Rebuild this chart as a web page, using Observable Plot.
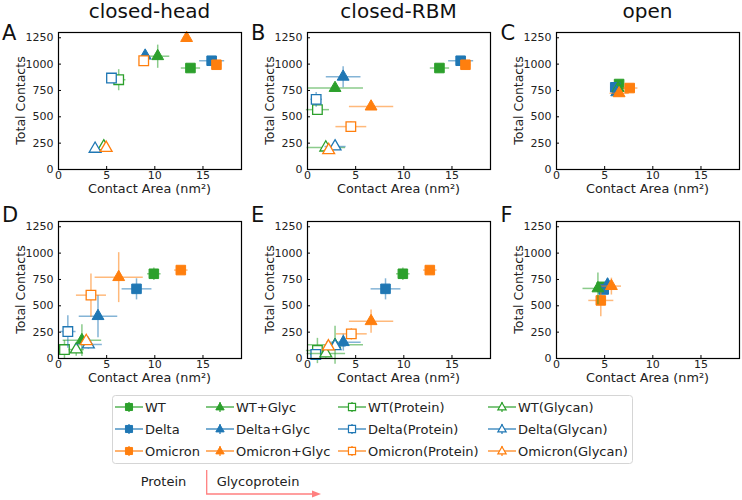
<!DOCTYPE html>
<html><head><meta charset="utf-8">
<script src="https://cdn.jsdelivr.net/npm/d3@7"></script>
<script src="https://cdn.jsdelivr.net/npm/@observablehq/plot@0.6"></script>
<style>
body{margin:0;background:#fff;font-family:"DejaVu Sans",sans-serif;}
#fig{position:relative;width:742px;height:500px;overflow:hidden;background:#fff;}
#fig svg{position:absolute;overflow:visible;}
</style></head><body><div id="fig"></div>
<script>
// ---- series definitions (legend order) ----
const seriesNames = ["WT","Delta","Omicron","WT+Glyc","Delta+Glyc","Omicron+Glyc",
  "WT(Protein)","Delta(Protein)","Omicron(Protein)","WT(Glycan)","Delta(Glycan)","Omicron(Glycan)"];
const seriesColors = ["#2ca02c","#1f77b4","#ff7f0e","#2ca02c","#1f77b4","#ff7f0e",
  "#2ca02c","#1f77b4","#ff7f0e","#2ca02c","#1f77b4","#ff7f0e"];
const seriesShape = ["square","square","square","triangle","triangle","triangle",
  "square","square","square","triangle","triangle","triangle"];
const seriesOpen = [false,false,false,false,false,false,true,true,true,true,true,true];

const panelTitles = ["closed-head","closed-RBM","open"];
const panelLetters = ["A","B","C","D","E","F"];
const xTicks = [0,5,10,15];
const yTicks = [0,250,500,750,1000,1250];

// ---- Panel A: closed-head ----
const aX    = [13.7, 15.9, 16.4, 10.3, 9.0, 13.3, 6.25, 5.5, 8.85, 4.7, 3.8, 4.95];
const aXErr = [1.0, 1.3, 0.5, 1.2, 0.3, 0.4, 0.7, 0.4, 0.4, 0.3, 0.3, 0.3];
const aY    = [963, 1032, 994, 1075, 1080, 1247, 852, 868, 1032, 218, 196, 205];
const aYErr = [20, 20, 20, 110, 30, 30, 100, 20, 20, 15, 15, 15];
// ---- Panel B: closed-RBM ----
const bX    = [13.7, 15.9, 16.4, 2.86, 3.7, 6.6, 1.03, 0.9, 4.5, 1.9, 2.86, 2.2];
const bXErr = [1.0, 1.3, 0.5, 2.9, 1.8, 2.3, 1.2, 0.6, 1.6, 2.0, 1.1, 0.5];
const bY    = [963, 1032, 994, 773, 880, 597, 568, 666, 407, 208, 218, 183];
const bYErr = [20, 20, 20, 30, 100, 30, 40, 70, 50, 20, 20, 15];
// ---- Panel C: open ----
const cX    = [6.5, 6.1, 7.6, 6.4, 6.25, 6.5, null, null, null, null, null, null];
const cXErr = [0.5, 0.5, 0.8, 0.5, 0.4, 1.0, null, null, null, null, null, null];
const cY    = [811, 780, 773, 773, 732, 723, null, null, null, null, null, null];
const cYErr = [30, 30, 40, 40, 30, 30, null, null, null, null, null, null];
// ---- Panel D ----
const dX    = [9.9, 8.1, 12.7, 2.43, 4.1, 6.25, 0.62, 0.97, 3.37, 1.84, 3.1, 2.88];
const dXErr = [0.7, 1.55, 0.7, 2.0, 2.0, 2.5, 0.5, 0.8, 1.56, 0.8, 1.4, 0.5];
const dY    = [804, 661, 839, 174, 402, 772, 85, 256, 601, 85, 133, 165];
const dYErr = [60, 100, 20, 150, 200, 237, 90, 155, 205, 60, 40, 30];
// ---- Panel E ----
const eX    = [9.9, 8.1, 12.7, 2.86, 3.72, 6.6, 1.03, 0.86, 4.55, 1.9, 2.86, 2.17];
const eXErr = [0.7, 1.55, 0.7, 2.9, 1.8, 2.3, 1.2, 0.6, 1.6, 2.0, 1.1, 0.5];
const eY    = [804, 661, 839, 130, 155, 354, 76, 38, 234, 47, 117, 114];
const eYErr = [60, 100, 20, 180, 80, 110, 120, 40, 55, 40, 30, 20];
// ---- Panel F ----
const fX    = [4.7, 4.9, 4.6, 4.3, 5.3, 5.7, null, null, null, null, null, null];
const fXErr = [0.5, 0.5, 1.3, 1.6, 0.6, 1.0, null, null, null, null, null, null];
const fY    = [680, 655, 551, 665, 702, 687, null, null, null, null, null, null];
const fYErr = [40, 40, 150, 150, 60, 80, null, null, null, null, null, null];

const panels = [
  [aX,aXErr,aY,aYErr],[bX,bXErr,bY,bYErr],[cX,cXErr,cY,cYErr],
  [dX,dXErr,dY,dYErr],[eX,eXErr,eY,eYErr],[fX,fXErr,fY,fYErr]
];

const FONT = "DejaVu Sans, sans-serif";
const fig = document.getElementById("fig");
const W = 244, H = 200, ML = 58, MT = 32, MR = 3, MB = 31;
const FH = H - MT - MB, FW = W - ML - MR;

panels.forEach(([xs, xe, ys, ye], i) => {
  const rows = seriesNames.map((name, k) => ({name, k, x: xs[k], xe: xe[k], y: ys[k], ye: ye[k]}))
    .filter(d => d.x != null);
  const marks = [];
  for (const d of rows) {
    const c = seriesColors[d.k];
    marks.push(Plot.link([d], {x1: r => r.x - r.xe, x2: r => r.x + r.xe, y1: "y", y2: "y",
      stroke: c, strokeOpacity: 0.55, strokeWidth: 1.5}));
    marks.push(Plot.link([d], {x1: "x", x2: "x", y1: r => r.y - r.ye, y2: r => r.y + r.ye,
      stroke: c, strokeOpacity: 0.55, strokeWidth: 1.5}));
    const tri = seriesShape[d.k] === "triangle";
    marks.push(Plot.dot([d], {x: "x", y: "y", symbol: seriesShape[d.k], r: tri ? 4.4 : 5.4,
      fill: seriesOpen[d.k] ? "white" : c, stroke: c, strokeWidth: seriesOpen[d.k] ? 1.3 : 1}));
  }
  const svg = Plot.plot({
    width: W, height: H, marginLeft: ML, marginTop: MT, marginRight: MR, marginBottom: MB,
    x: {domain: [0, 19]}, y: {domain: [0, 1300]},
    style: {fontFamily: FONT, fontSize: "11px", color: "#222", background: "transparent", overflow: "visible"},
    marks: [
      Plot.axisX(xTicks, {tickSize: 0, tickPadding: 2, label: null, fontSize: 11, tickFormat: d3.format("d")}),
      Plot.axisY(yTicks, {tickSize: 0, tickPadding: 5, label: null, fontSize: 11, tickFormat: d3.format("d")}),
      Plot.tickX(xTicks, {x: t => t, insetTop: FH - 3, stroke: "#000"}),
      Plot.tickY(yTicks, {y: t => t, insetRight: FW - 3, stroke: "#000"}),
      ...marks,
      Plot.frame({stroke: "#000", strokeWidth: 1.2})
    ]
  });
  const col = i % 3, row = Math.floor(i / 3);
  svg.style.left = (col * 249) + "px";
  svg.style.top = (row * 189) + "px";
  const s = d3.select(svg);
  s.append("text").attr("x", 20.7).attr("y", MT + FH / 2).attr("transform", `rotate(-90, 20.7, ${MT + FH / 2})`)
    .attr("text-anchor", "middle").attr("dy", "0.35em").attr("font-family", FONT).attr("font-size", 12.5)
    .attr("fill", "#222").text("Total Contacts");
  s.append("text").attr("x", ML + FW / 2).attr("y", MT + FH + 24).attr("text-anchor", "middle")
    .attr("font-family", FONT).attr("font-size", 12.8).attr("fill", "#222").text("Contact Area (nm²)");
  if (row === 0) {
    s.append("text").attr("x", ML + FW / 2).attr("y", 17.5).attr("text-anchor", "middle")
      .attr("font-family", FONT).attr("font-size", 20).attr("fill", "#111").text(panelTitles[col]);
  }
  s.append("text").attr("x", col === 2 ? 2.5 : 2).attr("y", row === 0 ? 40 : 33).attr("text-anchor", "start")
    .attr("font-family", FONT).attr("font-size", 21).attr("fill", "#111").text(panelLetters[i]);
  fig.appendChild(svg);
});

// ---- legend ----
const legendColX = [115, 206, 338, 488];
const legendRowY = [18, 40, 62];
const leg = d3.select(fig).append("svg").attr("width", 742).attr("height", 111)
  .style("left", "0px").style("top", "389px");
leg.append("rect").attr("x", 112.5).attr("y", 6.5).attr("width", 520).attr("height", 68).attr("rx", 3)
  .attr("fill", "white").attr("stroke", "#d5d5d5");
seriesNames.forEach((name, k) => {
  const col = Math.floor(k / 3), row = k % 3;
  const x0 = legendColX[col], y0 = legendRowY[row], c = seriesColors[k];
  const g = leg.append("g");
  g.append("line").attr("x1", x0).attr("x2", x0 + 28).attr("y1", y0).attr("y2", y0)
    .attr("stroke", c).attr("stroke-opacity", 0.8).attr("stroke-width", 1.5);
  g.append("line").attr("x1", x0 + 14).attr("x2", x0 + 14).attr("y1", y0 - 5).attr("y2", y0 + 5)
    .attr("stroke", c).attr("stroke-opacity", 0.8).attr("stroke-width", 1.5);
  const tri = seriesShape[k] === "triangle";
  g.append("path").attr("d", d3.symbol(tri ? d3.symbolTriangle : d3.symbolSquare, tri ? 30 : 50)())
    .attr("transform", `translate(${x0 + 14},${y0 + (tri ? 0.5 : 0)})`)
    .attr("fill", seriesOpen[k] ? "white" : c).attr("stroke", c).attr("stroke-width", seriesOpen[k] ? 1.2 : 1);
  g.append("text").attr("x", x0 + 30).attr("y", y0).attr("dy", "0.36em").attr("font-family", FONT)
    .attr("font-size", 13).attr("fill", "#222").text(name);
});
// Protein -> Glycoprotein annotation
leg.append("text").attr("x", 140.7).attr("y", 97).attr("font-family", FONT).attr("font-size", 13)
  .attr("fill", "#222").text("Protein");
leg.append("text").attr("x", 216.7).attr("y", 97).attr("font-family", FONT).attr("font-size", 13)
  .attr("fill", "#222").text("Glycoprotein");
leg.append("path").attr("d", "M206.7,81 V105 H313").attr("fill", "none").attr("stroke", "#ff8080").attr("stroke-width", 1.3);
leg.append("path").attr("d", "M312,101.5 L321,105 L312,108.5 Z").attr("fill", "#ff8080");
</script>
</body></html>
